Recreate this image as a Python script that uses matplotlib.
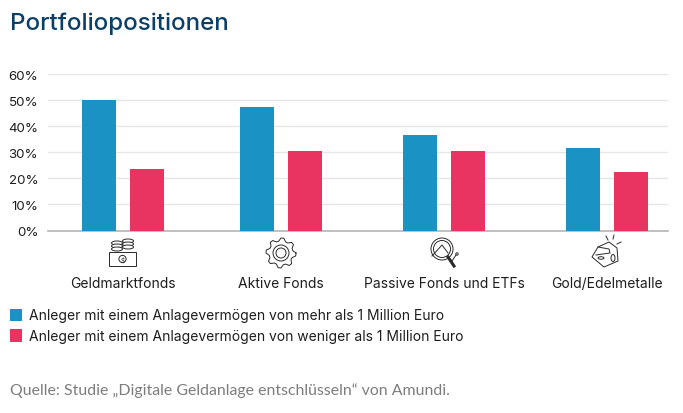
import numpy as np
import matplotlib
matplotlib.use('Agg')
import matplotlib.pyplot as plt
from matplotlib.patches import Circle, Rectangle, Ellipse, Polygon

categories = ['Geldmarktfonds', 'Aktive Fonds', 'Passive Fonds und ETFs', 'Gold/Edelmetalle']
more_than_million = [50, 47.5, 36.5, 31.5]
less_than_million = [23.5, 30.5, 30.5, 22.5]
y_ticks = [0, 10, 20, 30, 40, 50, 60]
legend_labels = ['Anleger mit einem Anlagevermögen von mehr als 1 Million Euro',
                 'Anleger mit einem Anlagevermögen von weniger als 1 Million Euro']
title = 'Portfoliopositionen'
source = 'Quelle: Studie „Digitale Geldanlage entschlüsseln“ von Amundi.'

BLUE = '#1b92c4'
RED = '#e93361'
INK = '#1e1e1e'
W, H = 683, 414

plt.rcParams['font.family'] = ['Inter', 'DejaVu Sans']

fig = plt.figure(figsize=(W / 100, H / 100), dpi=100)

# plot area, px: x 48-668, y 75-231
ax = fig.add_axes([48 / W, 1 - 231.5 / H, 620 / W, 156.5 / H])
ax.set_xlim(48, 668)
ax.set_ylim(0, 60)

centers = np.array([123, 281, 444, 607])
bar_w = 34
ax.bar(centers - 24, more_than_million, bar_w, color=BLUE, zorder=3)
ax.bar(centers + 24, less_than_million, bar_w, color=RED, zorder=3)

ax.set_yticks(y_ticks)
ax.set_yticklabels([f'{t}%' for t in y_ticks], fontsize=9.6, color=INK)
ax.tick_params(axis='y', length=0, pad=7)
ax.set_xticks([])
ax.grid(axis='y', color='#e6e6e6', linewidth=1, zorder=0)
for s in ['top', 'right', 'left']:
    ax.spines[s].set_visible(False)
ax.spines['bottom'].set_color('#b5b5b5')
ax.spines['bottom'].set_linewidth(1.2)

# overlay in pixel coordinates for text and icons
ov = fig.add_axes([0, 0, 1, 1], zorder=5)
ov.set_xlim(0, W)
ov.set_ylim(H, 0)
ov.axis('off')
ov.patch.set_alpha(0)

ov.text(10, 24, title, fontsize=17.4, color='#0b3f66', va='center', ha='left', fontweight='medium')

for c, name in zip(centers, categories):
    ov.text(c, 284, name, fontsize=10, color=INK, ha='center', va='center')

ICON = dict(fill=False, edgecolor='#2a2a2a', linewidth=0.7)


def icon_money(cx):
    ov.add_patch(Rectangle((cx - 14, 253), 27, 14, **ICON))
    ov.add_patch(Circle((cx - 0.5, 260), 3.6, **ICON))
    ov.text(cx - 0.5, 260, '$', fontsize=4.5, ha='center', va='center', color='#2a2a2a')
    for ex, ey in [(cx - 6, 244), (cx + 5, 242)]:
        for dy in [0, 3, 6]:
            ov.add_patch(Ellipse((ex, ey + dy), 11, 4, facecolor='white', edgecolor='#2a2a2a', linewidth=0.7))


def icon_gear(cx):
    cy = 254
    angles = np.linspace(0, 2 * np.pi, 33)
    radii = np.where(np.arange(33) % 4 < 2, 15, 12)
    ov.plot(cx + radii * np.cos(angles), cy + radii * np.sin(angles), color='#2a2a2a', lw=0.7)
    ov.add_patch(Circle((cx, cy), 8, **ICON))
    ov.add_patch(Circle((cx, cy), 5, **ICON))


def icon_lens(cx):
    ov.add_patch(Circle((cx - 2, 250), 11, **ICON))
    ov.add_patch(Circle((cx - 2, 250), 8.5, **ICON))
    ov.plot([cx - 12, cx - 2, cx + 4], [257, 246, 254], color='#2a2a2a', lw=0.7)
    ov.plot([cx + 4, cx + 10], [258, 267], color='#2a2a2a', lw=2.2)
    ov.plot([cx + 8, cx + 12], [262, 256], color='#2a2a2a', lw=0.7)
    ov.add_patch(Circle((cx + 13, 255), 1.2, **ICON))


def icon_gold(cx):
    pts = [(cx - 14, 258), (cx - 8, 248), (cx + 3, 243), (cx + 11, 249),
           (cx + 12, 262), (cx - 2, 268)]
    ov.add_patch(Polygon(pts, closed=True, **ICON))
    ov.plot([cx - 8, cx + 3, cx + 4, cx - 10], [248, 250, 254, 256], color='#2a2a2a', lw=0.7)
    ov.add_patch(Ellipse((cx + 7, 259), 4, 7, **ICON))
    ov.add_patch(Ellipse((cx - 5, 259), 6, 2.5, **ICON))
    for x0, y0, x1, y1 in [(cx + 2, 241, cx, 237), (cx + 7, 240, cx + 8, 236), (cx + 11, 245, cx + 15, 243)]:
        ov.plot([x0, x1], [y0, y1], color='#2a2a2a', lw=0.7)


icon_money(123)
icon_gear(281)
icon_lens(444)
icon_gold(606)

for y, col, lab in zip([315.5, 336], [BLUE, RED], legend_labels):
    ov.add_patch(Rectangle((10, y - 6), 12, 12.5, facecolor=col, edgecolor='none'))
    ov.text(29, y + 1, lab, fontsize=10, color=INK, ha='left', va='center')

ov.text(10, 391, source, fontsize=11.4, color='#7d7d7d', ha='left', va='center', family=['Lato', 'DejaVu Sans'])

fig.savefig('out.png', dpi=100)
